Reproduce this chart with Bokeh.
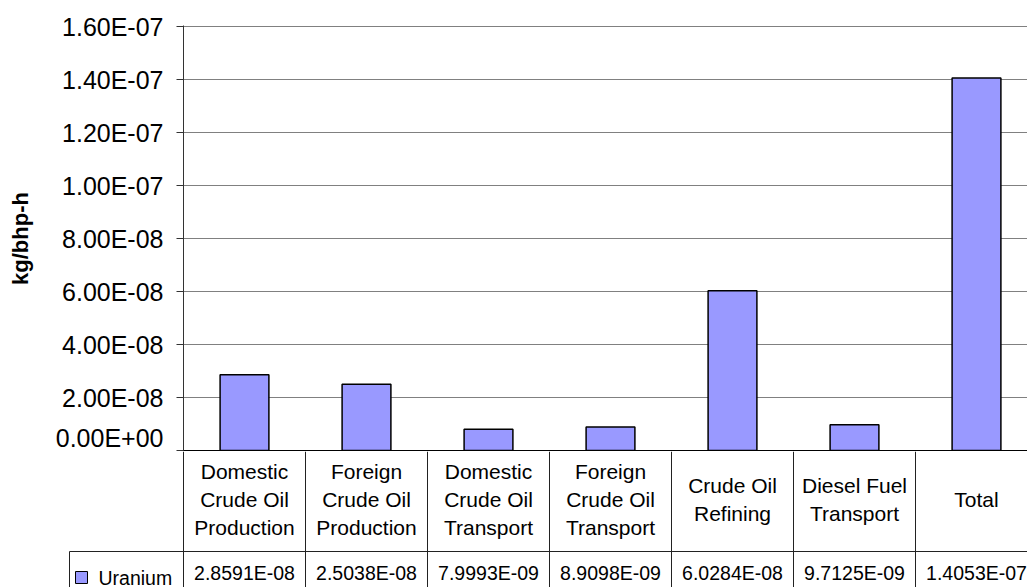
from bokeh.plotting import figure
from bokeh.models import Range1d, FixedTicker, CustomJSTickFormatter, Span, ColumnDataSource
from bokeh.embed import file_html
from bokeh.resources import INLINE
from bokeh.core.properties import value
import numpy as np

# ---- data ----
categories = ["Domestic\nCrude Oil\nProduction", "Foreign\nCrude Oil\nProduction",
              "Domestic\nCrude Oil\nTransport", "Foreign\nCrude Oil\nTransport",
              "Crude Oil\nRefining", "Diesel Fuel\nTransport", "Total"]
series_name = "Uranium"
uranium = [2.8591e-08, 2.5038e-08, 7.9993e-09, 8.9098e-09, 6.0284e-08, 9.7125e-09, 1.4053e-07]
y_ticks = [0.0, 2e-08, 4e-08, 6e-08, 8e-08, 1e-07, 1.2e-07, 1.4e-07, 1.6e-07]
y_label = "kg/bhp-h"

# ---- layout / style ----
FONT = "Liberation Sans"
BAR = "#9999FF"
LINE = "#222222"
W = 1027
CAT_PX = 122
FRAME_L = 183
X_END = (W - FRAME_L) / CAT_PX
YMAX = y_ticks[-1]
upp = YMAX / 424.0

centers = np.arange(len(categories)) + 0.5

main = figure(width=W, height=451, x_range=Range1d(0, X_END),
              y_range=Range1d(-upp, YMAX + upp),
              output_backend="svg", toolbar_location=None, x_axis_location=None,
              min_border_left=FRAME_L, min_border_right=0, min_border_top=25,
              min_border_bottom=0)
main.outline_line_color = None
main.xgrid.grid_line_color = None
main.ygrid.grid_line_color = "#808080"
ya = main.yaxis[0]
ya.ticker = FixedTicker(ticks=y_ticks)
ya.formatter = CustomJSTickFormatter(code="""
const s = tick.toExponential(2);
const parts = s.split("e");
const n = parseInt(parts[1], 10);
const a = Math.abs(n);
return parts[0] + "E" + (n < 0 ? "-" : "+") + (a < 10 ? "0" : "") + a;
""")
ya.axis_label = y_label
ya.axis_label_text_font = FONT
ya.axis_label_text_font_style = "bold"
ya.axis_label_text_font_size = "22px"
ya.axis_label_text_color = "black"
ya.axis_label_standoff = 20
ya.major_label_text_font = FONT
ya.major_label_text_font_size = "25px"
ya.major_label_text_color = "black"
ya.major_label_standoff = 13
ya.axis_line_color = "#333333"
ya.major_tick_line_color = "#333333"
ya.major_tick_out = 7
ya.major_tick_in = 0
ya.minor_tick_line_color = None

src = ColumnDataSource(dict(x=centers, top=uranium, cat=categories,
                            lab=[f"{v:.4E}" for v in uranium]))
main.vbar(x="x", top="top", width=0.4, source=src, fill_color=BAR,
          line_color="black", line_width=1.5)
main.add_layout(Span(location=0, dimension="width", line_color="black", line_width=1))

# ---- data table below the chart ----
TAB_H = 136
T_LEFT = 68
t_start = -(FRAME_L - T_LEFT) / CAT_PX
tab = figure(width=W, height=TAB_H, x_range=Range1d(t_start, X_END),
             y_range=Range1d(-TAB_H, 0), output_backend="svg", toolbar_location=None,
             x_axis_location=None, y_axis_location=None,
             min_border_left=T_LEFT, min_border_right=0, min_border_top=0,
             min_border_bottom=0)
tab.outline_line_color = None
tab.grid.visible = False

edges = np.arange(len(categories) + 1)
tab.segment(x0=edges, y0=0, x1=edges, y1=-TAB_H, line_color=LINE, line_width=1)
cell_left = t_start + 1.0 / CAT_PX
tab.segment(x0=[cell_left], y0=[-100], x1=[X_END], y1=[-100], line_color=LINE, line_width=1)
tab.segment(x0=[cell_left], y0=[-100], x1=[cell_left], y1=[-TAB_H], line_color=LINE, line_width=1)

tab.text(x="x", y=-48, text="cat", source=src, text_font=value(FONT),
         text_font_size="21px", text_align="center", text_baseline="middle",
         text_line_height=1.21, text_color="black")
tab.text(x="x", y=-121.5, text="lab", source=src, text_font=value(FONT),
         text_font_size="19.5px", text_align="center", text_baseline="middle",
         text_color="black")
tab.scatter(x=[-102.0 / CAT_PX], y=[-126], marker="square", size=12,
            fill_color=BAR, line_color="black", line_width=1)
tab.text(x=[-85.0 / CAT_PX], y=[-126], text=[series_name], text_font=value(FONT),
         text_font_size="19.5px", text_align="left", text_baseline="middle",
         text_color="black")

open("out.html", "w").write(file_html([main, tab], INLINE))
